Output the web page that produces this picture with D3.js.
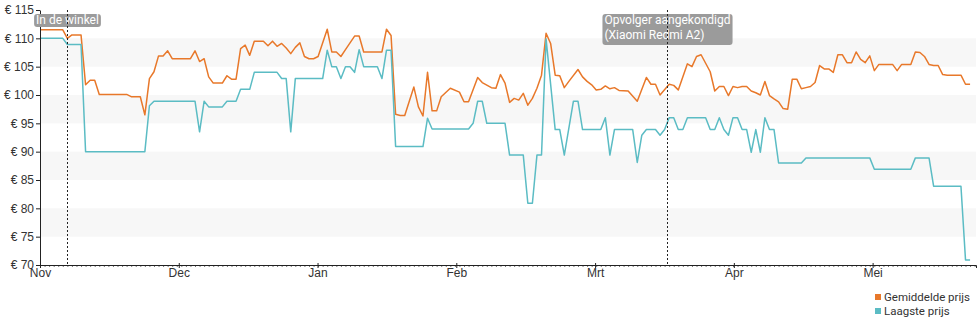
<!DOCTYPE html>
<html lang="nl">
<head>
<meta charset="utf-8">
<script src="https://cdn.jsdelivr.net/npm/d3@7"></script>
<style>
  html, body { margin: 0; padding: 0; background: #fff; }
  svg { display: block; font-family: Roboto, "Noto Sans", sans-serif; }
</style>
</head>
<body>
<svg id="chart" width="980" height="325"></svg>
<script>
// Prijsverloop: dagnummer sinds 1 november 2022, prijs in euro
const startDatum = Date.UTC(2022, 10, 1);
const DAG = 864e5;

const gemiddeldePrijs = [
  [0,111.5],[5,111.5],[6,110.0],[7,110.6],[9,110.6],[10,101.8],[11,102.6],[12,102.6],[13,100.1],
  [19,100.1],[20,99.7],[22,99.7],[23,96.5],[24,102.9],[25,104.1],[26,106.9],[27,106.9],[28,107.8],
  [29,106.4],[33,106.4],[34,107.8],[35,105.9],[36,106.4],[37,103.2],[38,102.1],[40,102.1],[41,103.4],
  [42,102.8],[43,102.8],[44,108.2],[45,108.8],[46,107.0],[47,109.5],[49,109.5],[50,108.7],[51,109.5],
  [52,108.6],[53,109.1],[54,108.3],[55,107.3],[56,108.4],[57,109.2],[58,106.8],[59,106.4],[60,106.4],
  [61,106.8],[63,111.6],[64,107.6],[65,107.6],[66,106.8],[67,108.0],[69,110.4],[70,110.4],[71,107.6],
  [75,107.6],[76,111.6],[77,110.5],[78,96.6],[79,96.4],[80,96.4],[82,101.4],[83,97.9],[84,96.3],
  [85,104.0],[86,97.2],[87,97.2],[88,99.7],[90,101.2],[92,100.5],[93,98.8],[94,98.8],[96,103.1],
  [97,102.2],[99,101.3],[100,101.2],[101,103.6],[102,102.1],[103,98.7],[104,99.4],[105,99.1],
  [106,100.3],[107,98.2],[108,99.4],[109,101.2],[110,103.5],[111,110.9],[112,109.1],[113,103.5],
  [114,103.4],[115,101.3],[116,102.4],[118,104.5],[119,103.2],[120,102.4],[121,101.8],[122,100.9],
  [123,101.0],[124,101.6],[125,101.1],[126,101.3],[127,100.8],[129,100.7],[131,98.9],[133,103.1],
  [134,101.9],[135,101.9],[136,100.0],[138,101.9],[139,101.7],[140,100.9],[142,105.5],[143,105.0],
  [144,106.8],[145,107.1],[146,105.6],[147,104.1],[148,100.7],[149,101.5],[150,101.5],[151,99.9],
  [152,101.5],[153,101.3],[154,101.5],[155,101.5],[156,100.7],[157,100.4],[158,100.0],[159,102.4],
  [160,99.9],[161,99.3],[162,98.8],[163,97.6],[164,97.5],[165,102.8],[166,102.8],[167,101.1],
  [168,101.3],[169,101.5],[170,102.2],[171,105.2],[172,104.6],[173,104.6],[174,104.0],[175,107.1],
  [176,107.1],[177,105.7],[178,105.7],[179,107.6],[180,106.3],[181,105.7],[182,106.9],[183,104.3],
  [184,105.4],[187,105.4],[188,104.3],[189,105.4],[191,105.4],[192,107.6],[193,107.5],[194,106.8],
  [195,105.4],[196,105.2],[197,105.2],[198,103.6],[199,103.5],[202,103.5],[203,101.9],[204,101.9]
];

const laagstePrijs = [
  [0,110.0],[5,110.0],[6,108.9],[9,108.9],[10,90.0],[23,90.0],[24,98.1],[25,98.9],[34,98.9],
  [35,93.5],[36,98.9],[37,97.9],[40,97.9],[41,98.9],[43,98.9],[44,101.0],[46,101.0],[47,104.0],
  [52,104.0],[53,102.9],[54,102.9],[55,93.5],[56,102.9],[62,102.9],[63,107.9],[64,105.0],[65,105.0],
  [66,102.9],[67,105.0],[68,105.0],[69,104.0],[70,108.0],[71,105.0],[74,105.0],[75,102.9],[76,107.9],
  [77,107.9],[78,90.9],[84,90.9],[85,95.9],[86,94.0],[94,94.0],[95,95.0],[96,98.9],[97,98.9],
  [98,95.0],[102,95.0],[103,89.4],[106,89.4],[107,80.9],[108,80.9],[109,89.4],[110,89.4],[111,109.9],
  [113,93.9],[114,93.9],[115,89.4],[117,98.9],[118,98.9],[119,93.9],[123,93.9],[124,96.0],[125,89.4],
  [126,93.9],[130,93.9],[131,88.1],[132,92.9],[133,93.9],[135,93.9],[136,92.9],[137,93.9],[138,96.0],
  [139,96.0],[140,93.9],[141,93.9],[142,96.0],[146,96.0],[147,93.9],[148,93.9],[149,96.0],[150,93.9],
  [151,92.9],[152,96.0],[153,96.0],[154,93.9],[155,93.9],[156,89.9],[157,93.9],[158,89.9],[159,96.0],
  [160,93.9],[161,93.9],[162,88.0],[167,88.0],[168,88.9],[182,88.9],[183,86.9],[191,86.9],[192,88.9],
  [195,88.9],[196,83.9],[202,83.9],[203,70.9],[204,70.9]
];

const maandLabels = ["Nov", "Dec", "Jan", "Feb", "Mrt", "Apr", "Mei"];
const prijsTicks = [70, 75, 80, 85, 90, 95, 100, 105, 110, 115];

const gebeurtenisDagen = [6, 137.5];
const gebeurtenisLabels = [["In de winkel"], ["Opvolger aangekondigd", "(Xiaomi Redmi A2)"]];

const reeksNamen = ["Gemiddelde prijs", "Laagste prijs"];
const reeksKleuren = ["#e8782a", "#5bbcc4"];

// ---------------------------------------------------------------
(function () {
  const svg = d3.select("#chart");
  const pl = 40, pr = 976, pt = 10, pb = 265;
  const gemMaand = 365.25 / 12;
  const naarDatum = d => new Date(startDatum + d * DAG);

  const x = d3.scaleUtc()
    .domain([naarDatum(0), naarDatum(205.3)])
    .range([pl, pr]);
  const y = d3.scaleLinear().domain([70, 115]).range([pb, pt]);

  // afwisselende achtergrondbanden (110-105, 100-95, 90-85, 80-75)
  const banden = prijsTicks.filter(t => t - 5 >= 70 && ((115 - t) / 5) % 2 === 1);
  svg.append("g").selectAll("rect").data(banden).join("rect")
    .attr("x", pl).attr("width", pr - pl)
    .attr("y", d => y(d)).attr("height", d => y(d - 5) - y(d))
    .attr("fill", "#f7f7f7");

  // prijslijnen
  const lijn = d3.line().x(d => x(naarDatum(d[0]))).y(d => y(d[1]));
  [gemiddeldePrijs, laagstePrijs].forEach((reeks, i) => {
    svg.append("path").datum(reeks)
      .attr("d", lijn)
      .attr("fill", "none")
      .attr("stroke", reeksKleuren[i])
      .attr("stroke-width", 1.5)
      .attr("stroke-linejoin", "round");
  });

  // y-as
  const yAs = svg.append("g").attr("transform", `translate(${pl},0)`)
    .call(d3.axisLeft(y).tickValues(prijsTicks).tickSize(4).tickSizeOuter(0).tickPadding(2)
      .tickFormat(d => "€ " + d));
  yAs.select(".domain").attr("stroke", "#222");
  yAs.selectAll(".tick line").attr("stroke", "#222");
  yAs.selectAll(".tick text").attr("fill", "#333").style("font-size", "12px");

  // x-as: dagstreepjes
  const dagAs = svg.append("g").attr("transform", `translate(0,${pb})`)
    .call(d3.axisBottom(x).ticks(d3.utcDay.every(1)).tickSize(2).tickFormat(""));
  dagAs.select(".domain").remove();
  dagAs.selectAll(".tick line").attr("stroke", "#777");

  // x-as: maanden
  const maandDatums = maandLabels.map((_, i) => naarDatum(i * gemMaand));
  const xAs = svg.append("g").attr("transform", `translate(0,${pb})`)
    .call(d3.axisBottom(x).tickValues(maandDatums).tickSizeOuter(0).tickSize(3)
      .tickFormat((d, i) => maandLabels[i]));
  xAs.select(".domain").attr("stroke", "#222");
  xAs.selectAll(".tick line").attr("stroke", "#222").attr("y1", -2).attr("y2", 3);
  xAs.selectAll(".tick text").attr("fill", "#333").attr("y", 3).style("font-size", "12px");

  // gebeurtenissen
  gebeurtenisDagen.forEach((dag, i) => {
    const gx = Math.round(x(naarDatum(dag))) + 0.5;
    const g = svg.append("g");
    const regels = gebeurtenisLabels[i];
    const box = g.append("rect").attr("fill", "#9b9b9b").attr("rx", 3).attr("ry", 3);
    const tekst = g.append("text").attr("fill", "#fff").style("font-size", "12px");
    regels.forEach((r, j) => tekst.append("tspan").attr("y", 24 + j * 14.5).text(r));
    const breedte = d3.max(tekst.selectAll("tspan").nodes(), n => n.getComputedTextLength()) + 4;
    const bx = gx - breedte / 2;
    tekst.selectAll("tspan").attr("x", bx + 2);
    box.attr("x", bx).attr("y", 14).attr("width", breedte).attr("height", 13 + (regels.length - 1) * 18);
    svg.append("line")
      .attr("x1", gx).attr("x2", gx).attr("y1", pt).attr("y2", pb)
      .attr("stroke", "#222").attr("stroke-dasharray", "2,2");
  });

  // legenda
  const legenda = svg.append("g").attr("transform", "translate(875,0)");
  reeksNamen.forEach((naam, i) => {
    legenda.append("rect").attr("x", 0).attr("y", 294 + i * 14).attr("width", 6).attr("height", 6)
      .attr("fill", reeksKleuren[i]);
    legenda.append("text").attr("x", 9).attr("y", 301 + i * 14)
      .attr("fill", "#333").style("font-size", "11.5px").text(naam);
  });
})();
</script>
</body>
</html>
